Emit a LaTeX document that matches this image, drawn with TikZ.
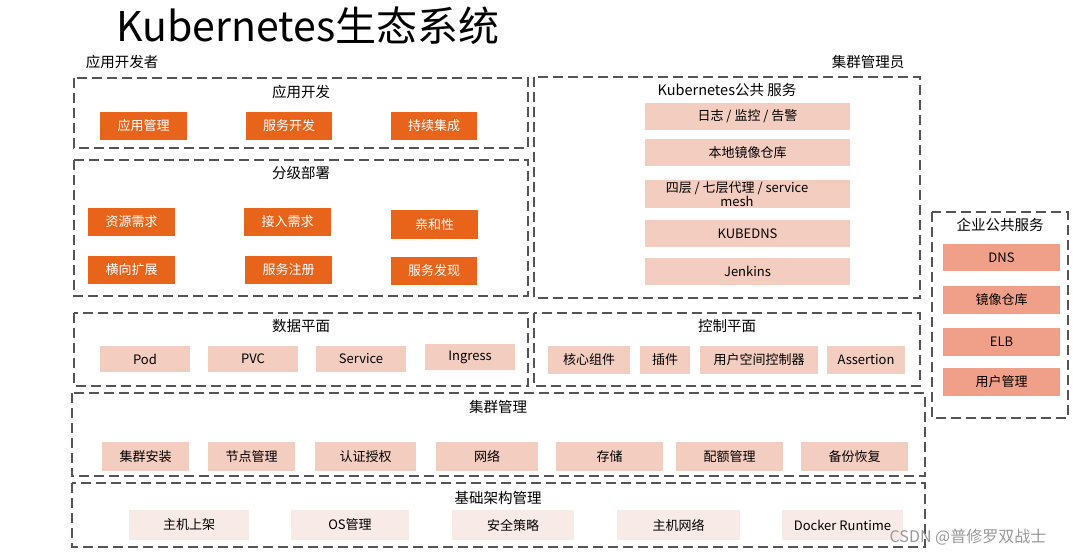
\documentclass[tikz,border=0pt]{standalone}
\usepackage{fontspec}
\setmainfont{Noto Sans CJK SC}
\definecolor{dk}{HTML}{E8641B}
\definecolor{lt}{HTML}{F3CDC0}
\definecolor{vl}{HTML}{F8EAE6}
\definecolor{md}{HTML}{F0A088}
\definecolor{ln}{HTML}{555555}
\begin{document}
\begin{tikzpicture}[x=1pt,y=-1pt,
 grp/.style={draw=ln,line width=2.2pt,dash pattern=on 10pt off 5pt},
 ttl/.style={font=\fontsize{14.5}{16}\selectfont},
 itm/.style={font=\fontsize{13}{14.5}\selectfont,inner sep=0pt,align=center}]
\useasboundingbox[fill=white] (0,0) rectangle (1080,557);
\node (t) at (308,26) {\fontsize{41}{45}\selectfont Kubernetes生态系统};
\node[ttl] (r1) at (122,62) {应用开发者};
\node[ttl] (r2) at (868,62) {集群管理员};
% groups
\draw[grp] (74,78) rectangle (528,148); \node[ttl] (g1) at (301,92) {应用开发};
\draw[grp] (74,160) rectangle (528,296); \node[ttl] (g2) at (301,173) {分级部署};
\draw[grp] (534,77) rectangle (920,298); \node[ttl] (g3) at (727,90) {Kubernetes公共 服务};
\draw[grp] (932,212) rectangle (1068,418); \node[ttl] (g4) at (1000,225) {企业公共服务};
\draw[grp] (74,313) rectangle (528,386); \node[ttl] (g5) at (301,326) {数据平面};
\draw[grp] (534,313) rectangle (920,386); \node[ttl] (g6) at (727,326) {控制平面};
\draw[grp] (72,393) rectangle (925,476); \node[ttl] (g7) at (498,407) {集群管理};
\draw[grp] (72,483) rectangle (925,547); \node[ttl] (g8) at (498,498) {基础架构管理};
% items
\def\I#1#2#3#4#5#6#7{\fill[#5] (#1,#2) rectangle (#3,#4); \node[itm,text=#6] at ({(#1+#3)/2},{(#2+#4)/2}) {#7};}
\I{100}{112}{187}{140}{dk}{white}{应用管理}
\I{246}{112}{332}{140}{dk}{white}{服务开发}
\I{391}{112}{477}{140}{dk}{white}{持续集成}
\I{88}{208}{175}{236}{dk}{white}{资源需求}
\I{244}{208}{331}{236}{dk}{white}{接入需求}
\I{391}{210}{478}{239}{dk}{white}{亲和性}
\I{88}{256}{175}{284}{dk}{white}{横向扩展}
\I{245}{256}{332}{284}{dk}{white}{服务注册}
\I{391}{257}{477}{285}{dk}{white}{服务发现}
\I{645}{103}{850}{130}{lt}{black}{日志 / 监控 / 告警}
\I{645}{139}{850}{166}{lt}{black}{本地镜像仓库}
\fill[lt] (645,180) rectangle (850,208); \node[itm] at (737,194) {四层 / 七层代理 / service\\mesh};
\I{645}{220}{850}{247}{lt}{black}{KUBEDNS}
\I{645}{258}{850}{285}{lt}{black}{Jenkins}
\I{943}{244}{1060}{271}{md}{black}{DNS}
\I{943}{286}{1060}{314}{md}{black}{镜像仓库}
\I{943}{328}{1060}{356}{md}{black}{ELB}
\I{943}{368}{1060}{396}{md}{black}{用户管理}
\I{100}{346}{190}{372}{lt}{black}{Pod}
\I{208}{346}{298}{372}{lt}{black}{PVC}
\I{316}{346}{406}{372}{lt}{black}{Service}
\I{425}{344}{515}{370}{lt}{black}{Ingress}
\I{548}{346}{630}{374}{lt}{black}{核心组件}
\I{640}{346}{690}{374}{lt}{black}{插件}
\I{700}{346}{818}{374}{lt}{black}{用户空间控制器}
\I{827}{346}{905}{374}{lt}{black}{Assertion}
\I{102}{442}{189}{471}{lt}{black}{集群安装}
\I{208}{442}{295}{471}{lt}{black}{节点管理}
\I{315}{442}{416}{471}{lt}{black}{认证授权}
\I{436}{442}{538}{471}{lt}{black}{网络}
\I{556}{442}{663}{471}{lt}{black}{存储}
\I{676}{442}{783}{471}{lt}{black}{配额管理}
\I{801}{442}{908}{471}{lt}{black}{备份恢复}
\I{129}{510}{249}{540}{vl}{black}{主机上架}
\I{291}{510}{409}{540}{vl}{black}{OS管理}
\I{452}{510}{574}{540}{vl}{black}{安全策略}
\I{617}{510}{740}{540}{vl}{black}{主机网络}
\I{782}{510}{903}{540}{vl}{black}{Docker Runtime}
\node[text=gray!80,font=\fontsize{16}{18}\selectfont] (wm) at (968,537) {CSDN @普修罗双战士};
\end{tikzpicture}
\end{document}
